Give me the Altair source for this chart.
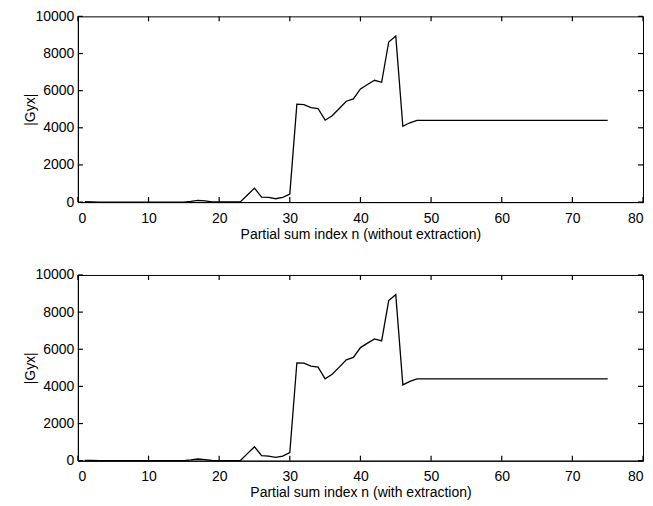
import altair as alt
import pandas as pd

# Partial sum index n
n_vals = list(range(1, 76))
# |Gyx| without extraction
gyx_without = [
    20, 10, 0, 0, 0, 0, 0, 0, 0, 0,
    0, 0, 0, 0, 0, 40, 90, 60, 10, 5,
    5, 5, 10, 380, 750, 270, 250, 180, 250, 430,
    5270, 5250, 5090, 5040, 4410, 4650, 5040, 5430, 5560, 6090,
    6330, 6560, 6450, 8620, 8940, 4080, 4270, 4400, 4400, 4400,
    4400, 4400, 4400, 4400, 4400, 4400, 4400, 4400, 4400, 4400,
    4400, 4400, 4400, 4400, 4400, 4400, 4400, 4400, 4400, 4400,
    4400, 4400, 4400, 4400, 4400,
]
# |Gyx| with extraction
gyx_with = list(gyx_without)

x_ticks = [0, 10, 20, 30, 40, 50, 60, 70, 80]
y_ticks = [0, 2000, 4000, 6000, 8000, 10000]

W, H = 566, 186
FONT = "Liberation Sans"
TICK = 5

xt = pd.DataFrame({"tx": x_ticks})
yt = pd.DataFrame({"ty": y_ticks})


def panel(values, xtitle):
    df = pd.DataFrame({"n": n_vals, "g": values})
    xs = alt.Scale(domain=[0, 80], nice=False, zero=False)
    ys = alt.Scale(domain=[0, 10000], nice=False)
    xax = alt.Axis(values=x_ticks, ticks=False, grid=False, format="d",
                   labelPadding=9, titlePadding=2,
                   domainColor="black", labelColor="black",
                   titleColor="black")
    yax = alt.Axis(values=y_ticks, ticks=False, grid=False, format="d",
                   labelPadding=4, titleX=-47, titleY=H / 2,
                   titleBaseline="middle",
                   domainColor="black", labelColor="black",
                   titleColor="black")
    line = alt.Chart(df).mark_line(color="black", strokeWidth=1.3).encode(
        x=alt.X("n:Q", scale=xs, title=xtitle, axis=xax),
        y=alt.Y("g:Q", scale=ys, title="|Gyx|", axis=yax),
    )
    xb = alt.Chart(xt).mark_rule(color="black", strokeWidth=1.2).encode(
        x=alt.X("tx:Q", scale=xs, title=xtitle, axis=xax),
        y=alt.value(H), y2=alt.value(H - TICK))
    xtop = alt.Chart(xt).mark_rule(color="black", strokeWidth=1.2).encode(
        x=alt.X("tx:Q", scale=xs, title=xtitle, axis=xax),
        y=alt.value(0), y2=alt.value(TICK))
    yl = alt.Chart(yt).mark_rule(color="black", strokeWidth=1.2).encode(
        y=alt.Y("ty:Q", scale=ys, title="|Gyx|", axis=yax),
        x=alt.value(0), x2=alt.value(TICK))
    yr = alt.Chart(yt).mark_rule(color="black", strokeWidth=1.2).encode(
        y=alt.Y("ty:Q", scale=ys, title="|Gyx|", axis=yax),
        x=alt.value(W), x2=alt.value(W - TICK))
    return alt.layer(line, xb, xtop, yl, yr).properties(width=W, height=H)


chart = alt.vconcat(
    panel(gyx_without, "Partial sum index n (without extraction)"),
    panel(gyx_with, "Partial sum index n (with extraction)"),
    spacing=25,
).properties(
    padding={"left": 15, "top": 0, "right": 0, "bottom": 0},
    background="white",
).configure_view(
    stroke="black", strokeWidth=1
).configure_axis(
    labelFont=FONT, titleFont=FONT, labelFontSize=14, titleFontSize=14,
    titleFontWeight="normal", domainWidth=1
)

chart.save("out.html", embed_options={"renderer": "svg", "actions": False})
